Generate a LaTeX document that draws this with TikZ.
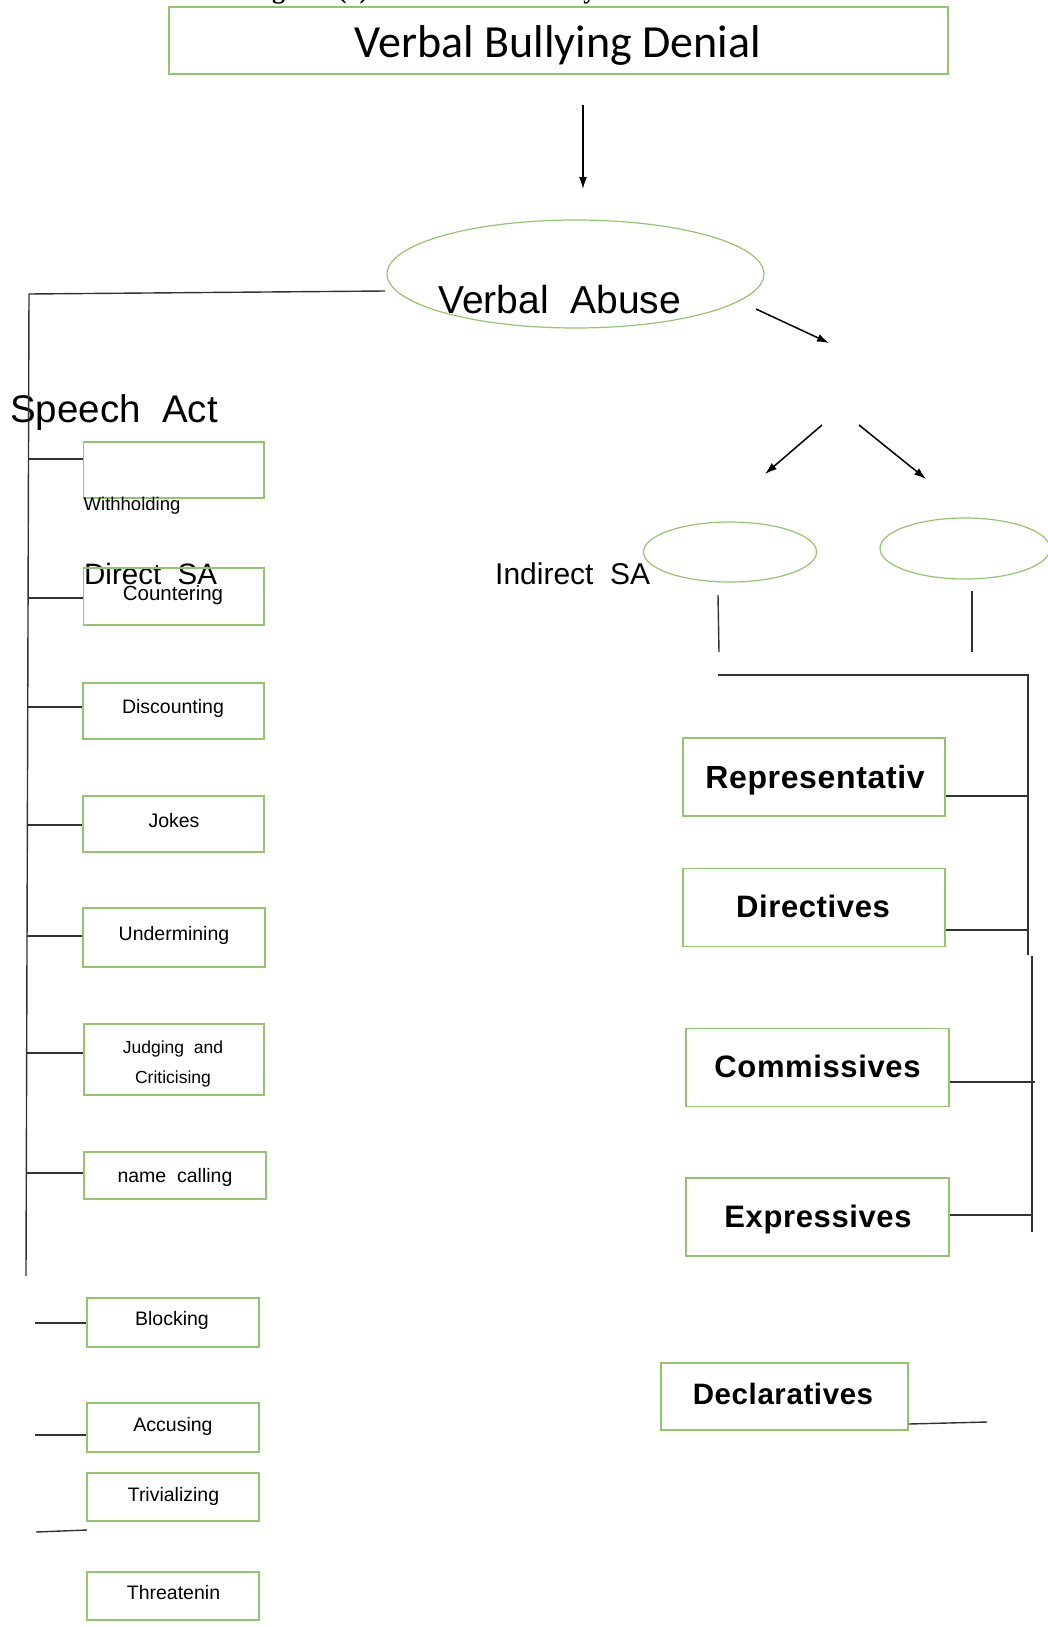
\documentclass[tikz,border=0pt]{standalone}
\usepackage{fontspec}
\setmainfont{Liberation Sans}
\newfontfamily\arialf{Liberation Sans}
\newfontfamily\arialbold[LetterSpace=2]{Liberation Sans Bold}
\newfontfamily\calib{Carlito}
\newfontfamily\capserif{Liberation Serif Bold}
\usetikzlibrary{shapes.geometric,arrows.meta}
\definecolor{vgreen}{RGB}{146,198,110}
\definecolor{lgray}{RGB}{50,50,50}
\tikzset{
  gbox/.style={draw=vgreen, line width=1.3pt, inner sep=0pt, rectangle},
  gell/.style={draw=vgreen, line width=1.2pt, inner sep=0pt, ellipse},
  conn/.style={draw=lgray, line width=1.4pt},
  arr/.style={draw=black, line width=1.5pt, -{Latex[length=12pt,width=8pt]}},
  small/.style={font=\arialf\fontsize{19.5}{22}\selectfont, inner sep=0pt, anchor=base},
  big/.style={font=\arialf\fontsize{30}{34}\selectfont, inner sep=0pt, anchor=base west},
  bold/.style={font=\arialbold\fontsize{31}{34}\selectfont, inner sep=0pt, anchor=base}
}
\begin{document}
\begin{tikzpicture}[x=1pt,y=-1pt]
\path[use as bounding box] (0,0) rectangle (1048,1627);
% clipped caption
\begin{scope}
\clip (0,0) rectangle (1048,7);
\node[font=\capserif\fontsize{26}{28}\selectfont, inner sep=0pt, anchor=base west] (cap) at (233,-1.5) {Diagram (1) The Model of Analysis of Verbal Abuse};
\end{scope}
% title
\node[gbox, minimum width=779pt, minimum height=67pt] (title) at (558.5,40.5) {};
\node[font=\calib\fontsize{46}{48}\selectfont, inner sep=0pt, anchor=base] (titletext) at (558,58) {Verbal Bullying Denial};
% verbal abuse
\node[gell, minimum width=377pt, minimum height=108pt] (va) at (575.5,274) {};
\node[font=\arialf\fontsize{39}{42}\selectfont, inner sep=0pt, anchor=base west] (vatext) at (438,313) {Verbal\ \ Abuse};
\coordinate (a1s) at (583,105);
\coordinate (a1e) at (583,189);
\draw[arr] (a1s) -- (a1e);
\coordinate (a2s) at (756,309);
\coordinate (a2e) at (829,343);
\draw[arr] (a2s) -- (a2e);
\coordinate (a3s) at (822,425);
\coordinate (a3e) at (765,474);
\draw[arr] (a3s) -- (a3e);
\coordinate (a4s) at (859,425);
\coordinate (a4e) at (926,479);
\draw[arr] (a4s) -- (a4e);
% labels
\node[font=\arialf\fontsize{38.5}{40}\selectfont, inner sep=0pt, anchor=base west] (sa) at (10,422) {Speech\ \ Act};
\node[big, font=\arialf\fontsize{29.5}{32}\selectfont] (dsa) at (84,584) {Direct\ \ SA};
\node[big] (isa) at (495,584) {Indirect\ \ SA};
% small ellipses
\node[gell, minimum width=173pt, minimum height=60pt] (e1) at (730,552) {};
\node[gell, minimum width=170pt, minimum height=61pt] (e2) at (965,548.5) {};
% left trunk
\coordinate (vaL) at (385,291);
\coordinate (tTop) at (29,294);
\coordinate (tBot) at (26,1276);
\draw[conn] (vaL) -- (tTop) -- (tBot);
% left boxes
\node[gbox, minimum width=180.5pt, minimum height=56pt] (wbox) at (173.75,470) {};
\node[font=\arialf\fontsize{18.5}{21}\selectfont, inner sep=0pt, anchor=base west] (wtext) at (83.5,510) {Withholding};
\node[gbox, minimum width=180.5pt, minimum height=57pt] (cbox) at (173.75,596.5) {};
\node[small, font=\arialf\fontsize{20.5}{22}\selectfont] (ctext) at (173,600) {Countering};
\node[gbox, minimum width=181pt, minimum height=56pt] (dbox) at (173.5,711) {};
\node[small] (dtext) at (173,713) {Discounting};
\node[gbox, minimum width=181pt, minimum height=56pt] (jbox) at (173.5,824) {};
\node[small] (jtext) at (174,827) {Jokes};
\node[gbox, minimum width=182pt, minimum height=59pt] (ubox) at (174,937.5) {};
\node[small] (utext) at (174,940) {Undermining};
\node[gbox, minimum width=180pt, minimum height=71pt] (jcbox) at (174,1059.5) {};
\node[small, font=\arialf\fontsize{17.5}{20}\selectfont] (jctext1) at (173,1053) {Judging\ \ and};
\node[small, font=\arialf\fontsize{17.5}{20}\selectfont] (jctext2) at (173,1083) {Criticising};
\node[gbox, minimum width=182pt, minimum height=47pt] (ncbox) at (175,1175.5) {};
\node[small] (nctext) at (175,1182) {name\ \ calling};
\node[gbox, minimum width=172pt, minimum height=49pt] (bbox) at (173,1322.5) {};
\node[small] (btext) at (172,1325) {Blocking};
\node[gbox, minimum width=172pt, minimum height=49pt] (abox) at (173,1427.5) {};
\node[small] (atext) at (173,1431) {Accusing};
\node[gbox, minimum width=172pt, minimum height=48pt] (tbox) at (173,1497) {};
\node[small] (ttext) at (173.5,1501) {Trivializing};
\node[gbox, minimum width=172pt, minimum height=48pt] (thbox) at (173,1596) {};
\node[small] (thtext) at (173.5,1599) {Threatenin};
% left branches
\draw[conn] (29,459) -- (wbox.west |- 0,459);
\draw[conn] (28,598) -- (cbox.west |- 0,598);
\draw[conn] (28,707) -- (dbox.west |- 0,707);
\draw[conn] (27.5,825) -- (jbox.west |- 0,825);
\draw[conn] (27,936) -- (ubox.west |- 0,936);
\draw[conn] (27,1053) -- (jcbox.west |- 0,1053);
\draw[conn] (27,1173) -- (ncbox.west |- 0,1173);
\draw[conn] (35,1323) -- (bbox.west |- 0,1323);
\draw[conn] (35,1435) -- (abox.west |- 0,1435);
\coordinate (tl1) at (36,1532);
\coordinate (tl2) at (87,1530);
\draw[conn] (tl1) -- (tl2);
% right side
\coordinate (v1a) at (718,595);
\coordinate (v1b) at (719,652);
\draw[conn] (v1a) -- (v1b);
\coordinate (v2a) at (972,591);
\coordinate (v2b) at (972,652);
\draw[conn] (v2a) -- (v2b);
\coordinate (rh1) at (718,675);
\coordinate (rh2) at (1028,675);
\coordinate (rv1) at (1028,955);
\coordinate (rv2) at (1032,956);
\coordinate (rv3) at (1032,1232);
\draw[conn] (rh1) -- (rh2) -- (rv1);
\draw[conn] (rv2) -- (rv3);
\node[gbox, minimum width=262pt, minimum height=78pt] (rbox) at (814,777) {};
\node[bold, font=\arialbold\fontsize{32}{34}\selectfont] (rtext) at (815,788) {Representativ};
\node[gbox, minimum width=262pt, minimum height=78pt] (dirbox) at (814,907.5) {};
\node[bold] (dirtext) at (813,917) {Directives};
\node[gbox, minimum width=263pt, minimum height=78pt] (combox) at (817.5,1067.5) {};
\node[bold] (comtext) at (817.5,1077) {Commissives};
\node[gbox, minimum width=263pt, minimum height=78pt] (expbox) at (817.5,1217) {};
\node[bold] (exptext) at (818,1227) {Expressives};
\node[gbox, minimum width=247pt, minimum height=67pt] (decbox) at (784.5,1396.5) {};
\node[bold, font=\arialbold\fontsize{29.5}{32}\selectfont] (dectext) at (783,1404.5) {Declaratives};
\draw[conn] (rbox.east |- 0,796) -- (1028,796);
\draw[conn] (dirbox.east |- 0,930) -- (1028,930);
\draw[conn] (combox.east |- 0,1082) -- (1035,1082);
\draw[conn] (expbox.east |- 0,1215) -- (1032,1215);
\coordinate (decend) at (987,1422);
\draw[conn] (decbox.east |- 0,1424) -- (decend);
\end{tikzpicture}
\end{document}
